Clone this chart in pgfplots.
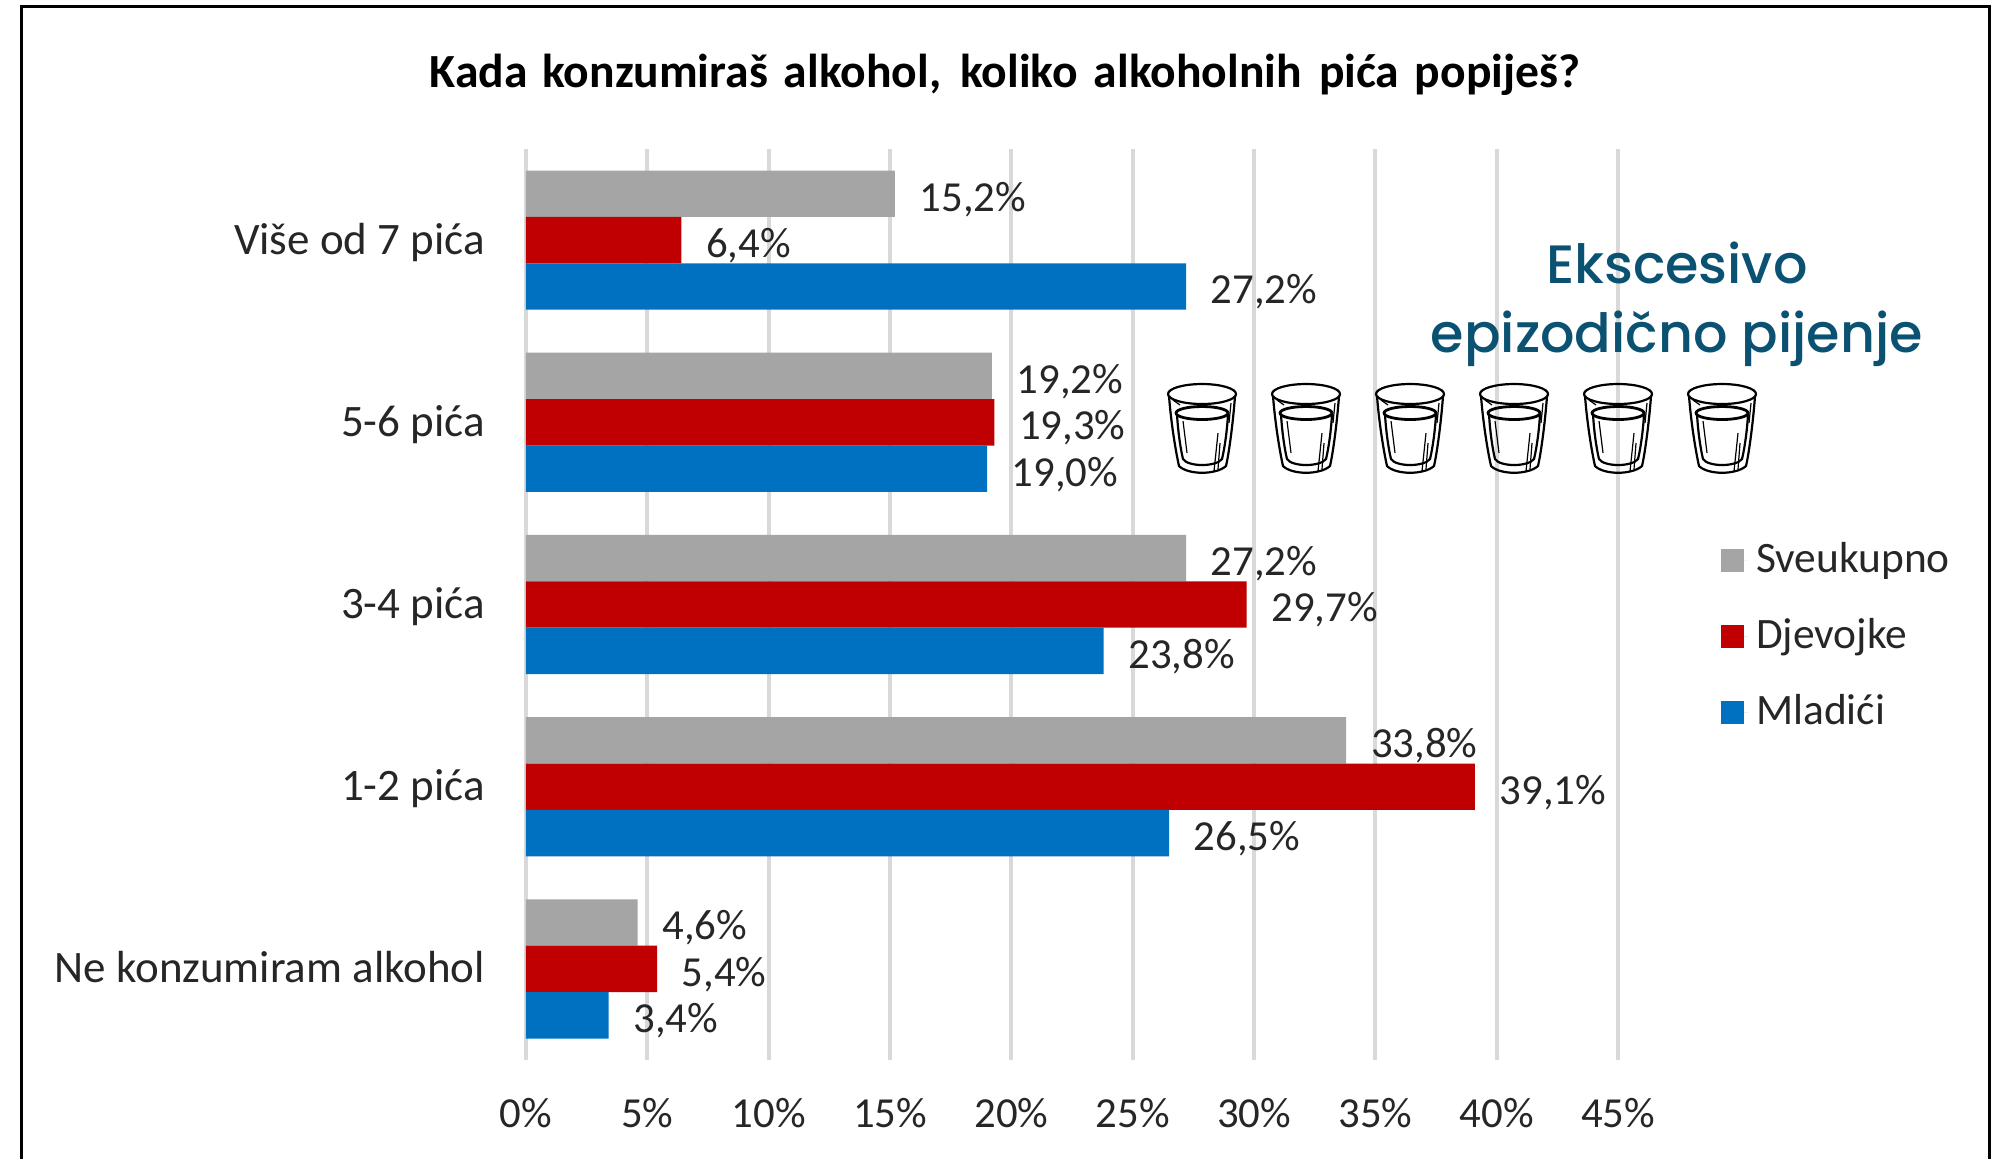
\documentclass[border=0pt]{standalone}
\usepackage{fontspec}
\setmainfont{Carlito}
\newfontfamily\annfont{Poppins Medium}
\usepackage{pgfplots}
\pgfplotsset{compat=1.18}
\definecolor{cgray}{HTML}{A5A5A5}
\definecolor{cred}{HTML}{C00000}
\definecolor{cblue}{HTML}{0070C0}
\definecolor{cgrid}{HTML}{D9D9D9}
\definecolor{cann}{HTML}{0B5272}
\newcommand{\lblfont}{\fontsize{10.7}{13}\selectfont}
\newcommand{\ylblfont}{\fontsize{11.25}{13}\selectfont}
\newcommand{\glass}[2]{%
\begin{scope}[shift={(#1pt,#2pt)},x=0.25pt,y=-0.25pt,line width=0.55pt,black]
\draw (34,11) ellipse [x radius=34,y radius=10];
\draw (1,13) .. controls (3,40) and (8,70) .. (11,83) .. controls (20,92) and (48,92) .. (58,83) .. controls (61,70) and (65,40) .. (67,13);
\draw[line width=0.7pt] (34,30) ellipse [x radius=26,y radius=6.5];
\draw (9,31) .. controls (10,50) and (13,68) .. (15,76) .. controls (20,84) and (48,84) .. (54,76) .. controls (56,68) and (59,50) .. (60,31);
\draw[line width=0.3pt] (15,38) -- (19,70);
\draw[line width=0.3pt] (50,50) -- (46,88);
\draw[line width=0.3pt] (52,60) -- (50,86);
\draw[line width=0.3pt] (5,17) -- (12,22);
\draw[line width=0.3pt] (63,20) -- (61,40);
\end{scope}}
\begin{document}
\begin{tikzpicture}
\path[use as bounding box] (0,0) rectangle (500.25pt,-289.75pt);
\begin{axis}[
  at={(131.5pt,-265pt)}, anchor=south west,
  scale only axis, width=273pt, height=227.75pt,
  xmin=0, xmax=45, ymin=-0.5, ymax=4.5,
  xtick={0,5,...,45},
  xticklabel={\pgfmathprintnumber{\tick}\%},
  ytick={0,1,2,3,4},
  yticklabels={Ne konzumiram alkohol,1-2 pića,3-4 pića,5-6 pića,Više od 7 pića},
  /pgf/number format/assume math mode=true,
  xmajorgrids, major grid style={cgrid,line width=1pt},
  axis line style={draw=none}, tick style={draw=none},
  tick label style={text=black!85},
  xticklabel style={font=\lblfont,yshift=-6.1pt},
  yticklabel style={font=\ylblfont,xshift=-2.5pt,yshift=-0.9pt,text height=7.6pt,text depth=2.4pt},
  xbar, bar width=11.6pt,
  nodes near coords={\pgfmathprintnumber[fixed,fixed zerofill,precision=1,use comma,assume math mode=true]{\pgfplotspointmeta}\%},
  nodes near coords align={horizontal},
  point meta=x,
  every node near coord/.append style={font=\lblfont,text=black!85,inner sep=0pt,xshift=6pt,yshift=-1.4pt,anchor=west},
  legend cell align=left,
  legend style={at={(1.094,0.578)},anchor=north west,draw=none,fill=none,font=\fontsize{10.85}{13}\selectfont,text=black!85,row sep=6pt,inner sep=0pt},
  legend image code/.code={\fill[#1] (0pt,-2.9pt) rectangle (5.75pt,2.9pt);\path (0pt,0pt) -- (6.7pt,0pt);},
]
\addplot[draw=none,fill=cgray,bar shift=11.6pt] coordinates {(4.6,0) (33.8,1) (27.2,2) (19.2,3) (15.2,4)};
\addplot[draw=none,fill=cred,bar shift=0pt] coordinates {(5.4,0) (39.1,1) (29.7,2) (19.3,3) (6.4,4)};
\addplot[draw=none,fill=cblue,bar shift=-11.6pt] coordinates {(3.4,0) (26.5,1) (23.8,2) (19.0,3) (27.2,4)};
\legend{Sveukupno,Djevojke,Mladići}
\end{axis}
\draw[line width=0.75pt,black] (5.25pt,-289.75pt) -- (5.25pt,-1.5pt) -- (497.25pt,-1.5pt) -- (497.25pt,-289.75pt);
\node[font=\fontsize{11.9}{14}\selectfont\bfseries,text=black,anchor=center,inner sep=0pt] at (251.2pt,-18.6pt) {Kada\hspace{1pt} konzumiraš\hspace{1.3pt} alkohol,\ \hspace{2pt}koliko\hspace{1.3pt} alkoholnih\ \hspace{1.6pt}pića\ \hspace{1.2pt}popiješ?};
\node[font=\annfont\fontsize{13.5}{15}\selectfont,text=cann,anchor=center,inner sep=0pt] at (419.2pt,-65.7pt) {Ekscesivo};
\node[font=\annfont\fontsize{13.5}{15}\selectfont,text=cann,anchor=center,inner sep=0pt] at (419.2pt,-84.8pt) {epizodično pijenje};
\glass{292}{-95.75}
\glass{318}{-95.75}
\glass{344}{-95.75}
\glass{370}{-95.75}
\glass{396}{-95.75}
\glass{422}{-95.75}
\end{tikzpicture}
\end{document}
